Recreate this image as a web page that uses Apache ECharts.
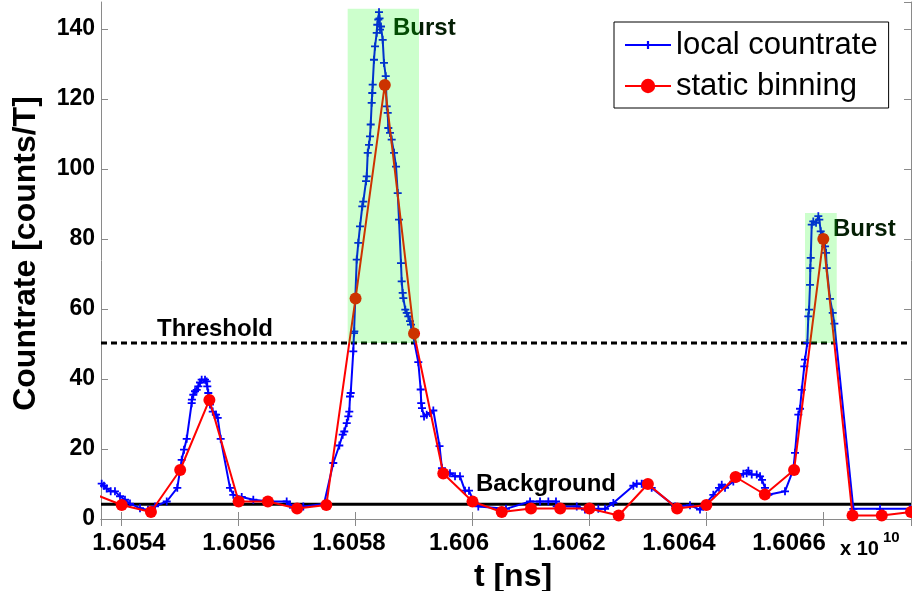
<!DOCTYPE html>
<html><head><meta charset="utf-8">
<script src="https://cdn.jsdelivr.net/npm/echarts@6/dist/echarts.min.js"></script>
<style>html,body{margin:0;padding:0;background:#fff}#c{width:912px;height:591px}</style>
</head><body><div id="c"></div>
<script>
// ---- data (t in units of 1e10 ns) ----
const localT = [1.6053658,1.6053697,1.6053743,1.6053812,1.6053885,1.6053971,1.6054056,1.6054142,1.6054313,1.6054450,1.6054570,1.6054770,1.6054951,1.6055026,1.6055066,1.6055112,1.6055197,1.6055201,1.6055225,1.6055254,1.6055283,1.6055310,1.6055339,1.6055368,1.6055425,1.6055454,1.6055464,1.6055481,1.6055510,1.6055557,1.6055613,1.6055642,1.6055693,1.6055852,1.6055909,1.6056053,1.6056251,1.6056537,1.6056822,1.6056879,1.6057106,1.6057460,1.6057619,1.6057722,1.6057780,1.6057807,1.6057849,1.6057876,1.6057893,1.6057905,1.6057917,1.6057961,1.6057973,1.6057979,1.6058020,1.6058047,1.6058076,1.6058115,1.6058132,1.6058179,1.6058191,1.6058208,1.6058230,1.6058247,1.6058259,1.6058276,1.6058286,1.6058293,1.6058315,1.6058333,1.6058362,1.6058372,1.6058389,1.6058401,1.6058410,1.6058418,1.6058435,1.6058464,1.6058486,1.6058516,1.6058533,1.6058550,1.6058560,1.6058589,1.6058618,1.6058658,1.6058692,1.6058721,1.6058743,1.6058777,1.6058789,1.6058806,1.6058817,1.6058851,1.6058875,1.6058902,1.6058931,1.6058948,1.6059073,1.6059114,1.6059123,1.6059136,1.6059171,1.6059217,1.6059273,1.6059330,1.6059436,1.6059478,1.6059615,1.6059701,1.6059786,1.6059872,1.6059940,1.6060026,1.6060099,1.6060573,1.6060984,1.6061155,1.6061297,1.6061428,1.6061440,1.6061783,1.6061924,1.6062152,1.6062267,1.6062409,1.6062751,1.6062809,1.6062894,1.6062922,1.6063065,1.6063464,1.6063720,1.6063891,1.6063948,1.6064119,1.6064216,1.6064263,1.6064319,1.6064461,1.6064632,1.6064690,1.6064718,1.6064776,1.6064861,1.6064918,1.6064952,1.6065003,1.6065060,1.6065345,1.6065487,1.6065516,1.6065573,1.6065602,1.6065631,1.6065675,1.6065687,1.6065727,1.6065744,1.6065756,1.6065773,1.6065778,1.6065785,1.6065802,1.6065829,1.6065876,1.6065915,1.6065932,1.6065956,1.6065990,1.6066030,1.6066047,1.6066059,1.6066115,1.6066161,1.6066189,1.6066514,1.6066970,1.6067483];
const localRate = [10.1,9.5,8.7,7.9,7.9,6.5,5.5,4.4,3.1,2.6,3.6,5.0,8.9,16.9,19.8,22.9,33.1,34.1,35.5,36.5,36.9,37.9,39.0,39.8,39.8,39.3,37.9,36.0,32.7,30.7,29.8,28.9,22.9,8.9,6.9,6.3,5.5,5.0,5.0,4.1,3.6,4.3,16.0,21.0,24.1,25.0,27.4,29.3,30.7,35.0,36.0,47.9,53.1,53.6,74.1,78.9,83.6,89.3,90.7,96.5,97.9,104.6,106.9,109.3,112.7,118.9,121.7,124.1,131.2,135.0,138.9,141.2,142.7,144.8,143.0,139.8,140.7,136.9,130.3,126.5,117.9,116.0,111.7,110.3,108.4,104.6,100.7,93.1,85.5,73.1,67.9,64.6,63.1,59.8,58.9,57.9,56.5,55.5,44.8,37.0,33.1,31.7,29.3,29.8,30.3,31.0,20.8,14.5,13.1,12.2,12.2,8.1,8.1,4.8,3.6,2.9,5.0,5.0,5.0,5.0,3.6,3.6,2.7,2.9,2.9,4.6,9.5,10.1,10.1,10.0,8.9,3.6,3.9,2.7,3.6,6.9,8.9,9.8,8.9,10.7,12.9,13.1,13.8,12.7,12.7,12.2,11.2,8.9,6.9,7.9,14.1,18.9,29.8,31.5,36.9,43.6,45.5,50.3,57.9,59.8,66.9,71.7,74.6,84.1,85.0,84.6,86.5,85.5,82.2,81.2,77.9,76.0,71.7,62.9,58.9,55.8,2.9,2.9,2.9];

const binT = [1.60535,1.6054,1.60545,1.6055,1.60555,1.6056,1.60565,1.6057,1.60575,1.6058,1.60585,1.6059,1.60595,1.606,1.60605,1.6061,1.60615,1.6062,1.60625,1.6063,1.60635,1.6064,1.60645,1.6065,1.60655,1.6066,1.60665,1.6067,1.60675];
const binRate = [7.3,4,2,14,34,5,5,3,4,63,124,53,13,5,2,3,3,3,1,10,3,4,12,7,14,80,1,1,2];

const thresholdValue = 50.3;
const backgroundValue = 4.2;

const burstStart = [1.6057865, 1.6065687];
const burstEnd   = [1.6059085, 1.6066230];
const burstTop   = [145.8, 87.4];

const annotTexts = ['Burst', 'Burst', 'Threshold', 'Background'];
const annotT     = [1.6058640, 1.6066166, 1.6054604, 1.6060060];
const annotY     = [140.1, 82.6, 54.1, 9.8];

const xMin = 1.6053646, xMax = 1.60675;
const yMin = 0, yMax = 147.7;
const xTickStep = 0.0002, xFirstTick = 1.6054;

// ---- chart ----
const FONT = 'Liberation Sans, Arial, Helvetica, sans-serif';
const NARROW = 'Liberation Sans Narrow, Arial Narrow, Liberation Sans, sans-serif';
const AXIS_GRAY = '#8a8a8a';
const plusPath = 'path://M3.5,0H5.5V3.5H9V5.5H5.5V9H3.5V5.5H0V3.5H3.5Z';
const legendBluePath = 'path://M0,0L0,0M0,8H21.9V5H24.1V8H46V10H24.1V13H21.9V10H0ZM46,18L46,18';

// tick labels in the reference sit slightly off their ticks (label row is compressed)
const labelShift = k => 7.3 - 6.93 * k;
const xRich = {};
for (let k = 0; k < 8; k++) {
  const d = labelShift(k);
  xRich['s' + k] = {
    fontFamily: NARROW, fontWeight: 'bold', fontSize: 24, color: '#000',
    padding: d >= 0 ? [0, 0, 0, 2 * d] : [0, -2 * d, 0, 0]
  };
}

const chart = echarts.init(document.getElementById('c'), null, {renderer: 'canvas'});

const xCommon = {
  type: 'value', min: xMin, max: xMax, splitNumber: 7,
  axisLine: {show: true, lineStyle: {color: AXIS_GRAY, width: 1}},
  axisTick: {show: true, inside: true, length: 7, lineStyle: {color: AXIS_GRAY}},
  splitLine: {show: false}
};
const yCommon = {
  type: 'value', min: yMin, max: yMax, interval: 20,
  axisLine: {show: true, lineStyle: {color: AXIS_GRAY, width: 1}},
  axisTick: {show: true, inside: true, length: 7, lineStyle: {color: AXIS_GRAY}},
  splitLine: {show: false}
};

const option = {
  animation: false,
  backgroundColor: '#fff',
  grid: {left: 101, right: 1, top: 2, bottom: 72, containLabel: false, outerBoundsMode: 'none'},
  xAxis: [
    Object.assign({}, xCommon, {
      position: 'bottom',
      name: 't [ns]', nameLocation: 'middle', nameGap: 42,
      nameTextStyle: {fontFamily: FONT, fontWeight: 'bold', fontSize: 32, color: '#000', padding: [0, 0, 0, 14]},
      axisLabel: {
        show: true, margin: 12, showMinLabel: false, showMaxLabel: false,
        fontFamily: NARROW, fontWeight: 'bold', fontSize: 24, color: '#000',
        rich: xRich,
        formatter: v => {
          const k = Math.round((v - xFirstTick) / xTickStep);
          return '{s' + k + '|' + String(Number(v.toFixed(4))) + '}';
        }
      }
    }),
    Object.assign({}, xCommon, {position: 'top', axisLabel: {show: false}})
  ],
  yAxis: [
    Object.assign({}, yCommon, {
      position: 'left',
      name: 'Countrate [counts/T]', nameLocation: 'middle', nameGap: 59, nameRotate: 90,
      nameTextStyle: {fontFamily: FONT, fontWeight: 'bold', fontSize: 32, color: '#000', padding: [0, 0, 0, 14]},
      axisLabel: {show: true, margin: 6, showMaxLabel: false, fontFamily: FONT, fontWeight: 'bold', fontSize: 23, color: '#000'}
    }),
    Object.assign({}, yCommon, {position: 'right', axisLabel: {show: false}})
  ],
  legend: {
    show: true, orient: 'vertical', left: 614, top: 22,
    backgroundColor: '#fff', borderColor: '#000', borderWidth: 1,
    padding: [7, 11, 6, 10], itemGap: 9, itemWidth: 46, itemHeight: 18,
    textStyle: {fontFamily: FONT, fontSize: 31, color: '#000', lineHeight: 32},
    selectedMode: false,
    data: [
      {name: 'local countrate', icon: legendBluePath},
      {name: 'static binning'}
    ]
  },
  graphic: [
    {type: 'text', left: 840, top: 539, style: {text: 'x 10', font: 'bold 20px ' + FONT, fill: '#000'}},
    {type: 'text', left: 883, top: 530, style: {text: '10', font: 'bold 15px ' + FONT, fill: '#000'}}
  ],
  series: [
    {
      name: 'Background', type: 'line', silent: true, z: 1,
      data: [[xMin, backgroundValue], [xMax, backgroundValue]],
      symbol: 'none', lineStyle: {color: '#000', width: 3}
    },
    {
      name: 'Threshold', type: 'line', silent: true, z: 1,
      data: [[xMin, thresholdValue], [xMax, thresholdValue]],
      symbol: 'none', lineStyle: {color: '#000', width: 3, type: [6, 4]}
    },
    {
      name: 'local countrate', type: 'line', z: 3,
      data: localT.map((t, i) => [t, localRate[i]]),
      symbol: plusPath, symbolSize: 8, showSymbol: true,
      color: '#0000ff',
      itemStyle: {color: '#0000ff'},
      lineStyle: {color: '#0000ff', width: 2}
    },
    {
      name: 'static binning', type: 'line', z: 4,
      data: binT.map((t, i) => [t, binRate[i]]),
      symbol: 'circle', symbolSize: 12, showSymbol: true,
      color: '#ff0000',
      itemStyle: {color: '#ff0000'},
      lineStyle: {color: '#ff0000', width: 2}
    },
    {
      name: 'annotations', type: 'custom', z: 5, silent: true,
      data: annotT.map((t, i) => [t, annotY[i], i]),
      encode: {x: 0, y: 1},
      renderItem: (params, api) => {
        const p = api.coord([api.value(0), api.value(1)]);
        const idx = api.value(2);
        return {
          type: 'text', x: p[0], y: p[1],
          style: {
            text: annotTexts[idx], fontFamily: FONT, fontWeight: 'bold', fontSize: 24,
            fill: idx < 2 ? '#041e04' : '#000', align: 'left', verticalAlign: 'middle'
          }
        };
      }
    },
    {
      name: 'bursts', type: 'custom', z: 6, silent: true,
      data: burstStart.map((s, i) => [s, burstEnd[i], thresholdValue, burstTop[i]]),
      encode: {x: [0, 1], y: [2, 3]},
      renderItem: (params, api) => {
        const p1 = api.coord([api.value(0), api.value(3)]);
        const p2 = api.coord([api.value(1), api.value(2)]);
        return {
          type: 'rect',
          shape: {x: p1[0], y: p1[1], width: p2[0] - p1[0], height: p2[1] - p1[1]},
          style: {fill: 'rgba(0,255,0,0.2)'}
        };
      }
    }
  ]
};
chart.setOption(option);
</script>
</body></html>
